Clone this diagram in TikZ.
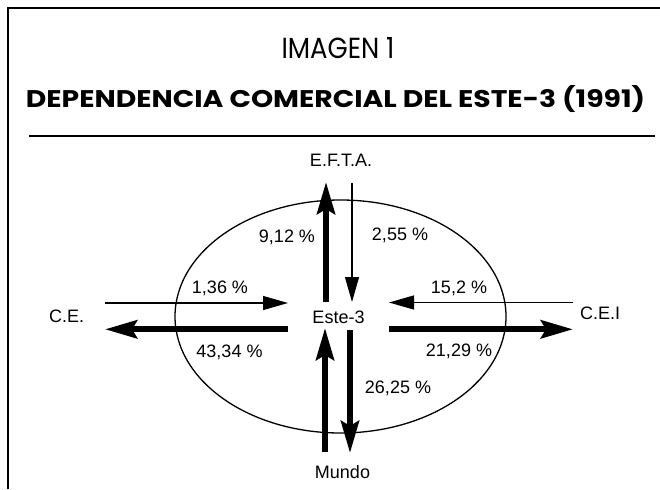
\documentclass[tikz,border=0pt]{standalone}
\usepackage{fontspec}
\setmainfont{Liberation Sans}
\newfontfamily\titlefont{Poppins}
\usetikzlibrary{arrows.meta}
\tikzset{
  lbl/.style={inner sep=0pt, anchor=base, font=\fontsize{18}{20}\selectfont},
  thickarr/.style={line width=6pt, -{Stealth[length=32pt,width=18pt,inset=5pt]}},
  thinarr/.style={line width=1.3pt, -{Triangle[length=25pt,width=14pt]}},
  frameline/.style={line width=2.2pt},
}
\begin{document}
\begin{tikzpicture}[x=1pt,y=-1pt]
\useasboundingbox (0,0) rectangle (660,489);
\fill[white] (0,0) rectangle (660,489);
% frame
\draw[frameline] (8,489) -- (8,8) -- (660,8);
\draw[line width=1.5pt] (29,136) -- (655,136);
% titles
\node[inner sep=0pt, anchor=base] (t1) at (338,59) {\resizebox{113pt}{21pt}{\titlefont IMAGEN 1}};
\node[inner sep=0pt, anchor=base] (t2) at (335.5,108) {\resizebox{619pt}{22pt}{\titlefont\bfseries DEPENDENCIA COMERCIAL DEL ESTE-3 (1991)}};
% ellipse
\draw[line width=1.3pt] (340.5,316.5) ellipse [x radius=165.5, y radius=116.5];
% place nodes
\node[lbl] (efta) at (341,167) {E.F.T.A.};
\node[lbl] (este) at (338.5,323) {Este-3};
\node[lbl] (mundo) at (342.5,478) {Mundo};
\node[lbl] (ce) at (66.7,322) {C.E.};
\node[lbl] (cei) at (600,319.5) {C.E.I};
% percentages
\node[lbl] (p1) at (287,242) {9,12 \%};
\node[lbl] (p2) at (400,240) {2,55 \%};
\node[lbl] (p3) at (220,293) {1,36 \%};
\node[lbl] (p4) at (459,293) {15,2 \%};
\node[lbl] (p5) at (229.5,357) {43,34 \%};
\node[lbl] (p6) at (459,356) {21,29 \%};
\node[lbl] (p7) at (398,393) {26,25 \%};
% arrow end coordinates
\coordinate (upA) at (326,302);   \coordinate (upB) at (326,182);
\coordinate (dnA) at (352,183);   \coordinate (dnB) at (352,302);
\coordinate (muA) at (325,452);   \coordinate (muB) at (325,328);
\coordinate (mdA) at (350,330);   \coordinate (mdB) at (350,453);
\coordinate (ceA) at (105,303);   \coordinate (ceB) at (288,303);
\coordinate (clA) at (288,329.3); \coordinate (clB) at (105,329.3);
\coordinate (ciA) at (573,302.5); \coordinate (ciB) at (389,302.5);
\coordinate (crA) at (389,329.3); \coordinate (crB) at (573,329.3);
% arrows
\draw[thickarr] (upA) -- (upB);
\draw[thinarr] (dnA) -- (dnB);
\draw[thickarr] (muA) -- (muB);
\draw[thickarr] (mdA) -- (mdB);
\draw[thinarr] (ceA) -- (ceB);
\draw[thickarr] (clA) -- (clB);
\draw[thinarr] (ciA) -- (ciB);
\draw[thickarr] (crA) -- (crB);
\end{tikzpicture}
\end{document}
